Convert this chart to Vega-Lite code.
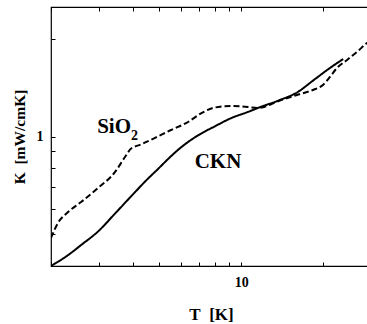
{
  "$schema": "https://vega.github.io/schema/vega-lite/v6.json",
  "width": 320,
  "height": 259,
  "autosize": {"type": "none"},
  "padding": {"left": 51, "top": 7, "right": 0, "bottom": 58},
  "background": "white",
  "config": {
    "view": {"stroke": "black", "strokeWidth": 1.2},
    "font": "Liberation Serif",
    "axis": {
      "grid": false,
      "domain": false,
      "tickColor": "black",
      "tickWidth": 1,
      "labelColor": "black",
      "titleColor": "black",
      "labelFont": "Liberation Serif",
      "titleFont": "Liberation Serif",
      "labelFontWeight": "bold",
      "titleFontWeight": "bold"
    }
  },
  "datasets": {
    "curves": [
      {"series": "CKN", "T": 2.0, "K": 0.4},
      {"series": "CKN", "T": 2.31, "K": 0.432},
      {"series": "CKN", "T": 2.58, "K": 0.464},
      {"series": "CKN", "T": 2.98, "K": 0.511},
      {"series": "CKN", "T": 3.44, "K": 0.58},
      {"series": "CKN", "T": 3.94, "K": 0.655},
      {"series": "CKN", "T": 4.55, "K": 0.743},
      {"series": "CKN", "T": 4.95, "K": 0.795},
      {"series": "CKN", "T": 5.38, "K": 0.852},
      {"series": "CKN", "T": 6.01, "K": 0.926},
      {"series": "CKN", "T": 6.94, "K": 1.008},
      {"series": "CKN", "T": 8.01, "K": 1.075},
      {"series": "CKN", "T": 9.17, "K": 1.138},
      {"series": "CKN", "T": 10.59, "K": 1.19},
      {"series": "CKN", "T": 11.53, "K": 1.224},
      {"series": "CKN", "T": 13.88, "K": 1.295},
      {"series": "CKN", "T": 16.03, "K": 1.365},
      {"series": "CKN", "T": 18.36, "K": 1.485},
      {"series": "CKN", "T": 21.2, "K": 1.624},
      {"series": "CKN", "T": 23.7, "K": 1.73},
      {"series": "SiO2", "T": 2.0, "K": 0.488},
      {"series": "SiO2", "T": 2.12, "K": 0.542},
      {"series": "SiO2", "T": 2.31, "K": 0.586},
      {"series": "SiO2", "T": 2.58, "K": 0.629},
      {"series": "SiO2", "T": 2.98, "K": 0.695},
      {"series": "SiO2", "T": 3.44, "K": 0.778},
      {"series": "SiO2", "T": 3.74, "K": 0.865},
      {"series": "SiO2", "T": 3.94, "K": 0.918},
      {"series": "SiO2", "T": 4.28, "K": 0.945},
      {"series": "SiO2", "T": 4.82, "K": 0.99},
      {"series": "SiO2", "T": 5.52, "K": 1.047},
      {"series": "SiO2", "T": 6.38, "K": 1.108},
      {"series": "SiO2", "T": 7.12, "K": 1.178},
      {"series": "SiO2", "T": 8.01, "K": 1.228},
      {"series": "SiO2", "T": 9.17, "K": 1.241},
      {"series": "SiO2", "T": 10.59, "K": 1.232},
      {"series": "SiO2", "T": 11.53, "K": 1.224},
      {"series": "SiO2", "T": 13.88, "K": 1.29},
      {"series": "SiO2", "T": 16.03, "K": 1.342},
      {"series": "SiO2", "T": 18.36, "K": 1.39},
      {"series": "SiO2", "T": 19.98, "K": 1.44},
      {"series": "SiO2", "T": 21.2, "K": 1.524},
      {"series": "SiO2", "T": 22.5, "K": 1.624},
      {"series": "SiO2", "T": 24.5, "K": 1.719},
      {"series": "SiO2", "T": 26.6, "K": 1.818},
      {"series": "SiO2", "T": 29.0, "K": 1.938},
      {"series": "SiO2", "T": 30.0, "K": 1.98}
    ],
    "labels": [
      {"label": "SiO", "T": 3.41, "K": 1.025},
      {"label": "2", "T": 3.94, "K": 0.976},
      {"label": "CKN", "T": 8.22, "K": 0.8}
    ]
  },
  "layer": [
    {
      "data": {"name": "curves"},
      "mark": {"type": "line", "color": "black", "strokeWidth": 2, "interpolate": "monotone", "clip": true},
      "encoding": {
        "x": {
          "field": "T", "type": "quantitative",
          "scale": {"type": "log", "domain": [2, 30], "nice": false},
          "axis": {
            "orient": "bottom",
            "values": [2, 3, 4, 5, 6, 7, 8, 9, 10, 20, 30],
            "labelExpr": "datum.value == 10 ? '10' : ''",
            "tickSize": 4,
            "offset": -4,
            "labelPadding": 9,
            "labelFontSize": 14,
            "title": "T\u00a0\u00a0[K]",
            "titleFontSize": 17,
            "titlePadding": 17
          }
        },
        "y": {
          "field": "K", "type": "quantitative",
          "scale": {"type": "log", "domain": [0.4, 2.5], "nice": false},
          "axis": {
            "values": [0.4, 0.5, 0.6, 0.7, 0.8, 0.9, 1, 2],
            "labelExpr": "datum.value == 1 ? '1' : ''",
            "tickSize": 4,
            "offset": -4,
            "labelPadding": 8,
            "labelFontSize": 14,
            "title": "K\u00a0\u00a0[mW/cmK]",
            "titleFontSize": 15.5,
            "titlePadding": 9
          }
        },
        "detail": {"field": "series", "type": "nominal"},
        "strokeDash": {
          "field": "series", "type": "nominal",
          "scale": {"domain": ["CKN", "SiO2"], "range": [[1, 0], [6, 3]]},
          "legend": null
        }
      }
    },
    {
      "data": {"name": "curves"},
      "mark": {"type": "point", "opacity": 0},
      "encoding": {
        "x": {
          "field": "T", "type": "quantitative",
          "axis": {
            "orient": "top",
            "values": [2, 3, 4, 5, 6, 7, 8, 9, 10, 20, 30],
            "labels": false,
            "tickSize": 4,
            "offset": -4,
            "title": null
          }
        },
        "y": {"field": "K", "type": "quantitative"}
      }
    },
    {
      "data": {"name": "labels"},
      "transform": [{"filter": "datum.label != '2'"}],
      "mark": {"type": "text", "font": "Liberation Serif", "fontWeight": "bold", "fontSize": 21, "align": "center", "baseline": "alphabetic", "color": "black"},
      "encoding": {
        "x": {"field": "T", "type": "quantitative", "axis": null},
        "y": {"field": "K", "type": "quantitative"},
        "text": {"field": "label"}
      }
    },
    {
      "data": {"name": "labels"},
      "transform": [{"filter": "datum.label == '2'"}],
      "mark": {"type": "text", "font": "Liberation Serif", "fontWeight": "bold", "fontSize": 14, "align": "left", "baseline": "alphabetic", "color": "black"},
      "encoding": {
        "x": {"field": "T", "type": "quantitative", "axis": null},
        "y": {"field": "K", "type": "quantitative"},
        "text": {"field": "label"}
      }
    }
  ],
  "resolve": {"axis": {"x": "independent"}}
}
